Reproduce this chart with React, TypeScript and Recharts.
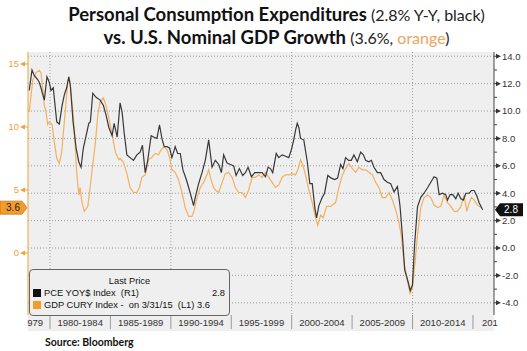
import React from 'react';
import { LineChart, Line, XAxis, YAxis, CartesianGrid, ReferenceLine } from 'recharts';

// ---------- data ----------
const pceYears = [
  1978.28, 1978.51, 1978.70, 1978.98, 1979.11, 1979.25, 1979.53, 1979.75, 1979.94, 1980.08,
  1980.27, 1980.56, 1980.77, 1981.00, 1981.19, 1981.38, 1981.55, 1981.68, 1981.91, 1982.16,
  1982.38, 1982.57, 1982.76, 1982.99, 1983.21, 1983.34, 1983.54, 1983.81, 1984.15, 1984.42,
  1984.64, 1984.87, 1985.14, 1985.31, 1985.56, 1985.80, 1985.97, 1986.14, 1986.36, 1986.63,
  1986.91, 1987.19, 1987.46, 1987.65, 1987.88, 1988.07, 1988.37, 1988.57, 1988.85, 1989.06,
  1989.26, 1989.45, 1989.68, 1989.89, 1990.09, 1990.36, 1990.56, 1990.78, 1991.00, 1991.28,
  1991.61, 1991.88, 1992.02, 1992.30, 1992.58, 1992.85, 1993.13, 1993.41, 1993.68, 1993.96,
  1994.18, 1994.37, 1994.65, 1994.93, 1995.20, 1995.40, 1995.67, 1995.95, 1996.17, 1996.39,
  1996.67, 1996.94, 1997.25, 1997.55, 1997.83, 1998.05, 1998.24, 1998.43, 1998.72, 1998.93,
  1999.21, 1999.49, 1999.76, 1999.98, 2000.17, 2000.32, 2000.46, 2000.59, 2000.73, 2001.00,
  2001.29, 2001.50, 2001.70, 2001.92, 2002.06, 2002.25, 2002.53, 2002.72, 2002.99, 2003.28,
  2003.55, 2003.80, 2004.05, 2004.24, 2004.46, 2004.71, 2004.93, 2005.15, 2005.43, 2005.71,
  2005.93, 2006.12, 2006.39, 2006.59, 2006.81, 2007.09, 2007.36, 2007.64, 2007.92, 2008.19,
  2008.47, 2008.75, 2008.96, 2009.16, 2009.35, 2009.58, 2009.81, 2009.99, 2010.18, 2010.41,
  2010.68, 2010.95, 2011.24, 2011.51, 2011.78, 2012.01, 2012.20, 2012.48, 2012.75, 2012.89,
  2013.11, 2013.33, 2013.58, 2013.77, 2014.00, 2014.20, 2014.41, 2014.69, 2014.88, 2015.10,
  2015.32, 2015.51, 2015.80,
];
const pceValues = [
  11.5, 13.0, 12.6, 12.3, 12.1, 11.7, 10.8, 12.5, 12.1, 11.5,
  11.7, 9.2, 9.05, 10.4, 11.2, 11.7, 12.5, 11.9, 9.2, 7.3,
  6.3, 5.9, 7.3, 8.2, 9.1, 9.2, 11.3, 11.0, 10.8, 10.4,
  9.7, 8.8, 8.2, 9.1, 8.1, 10.6, 9.9, 8.4, 6.8, 6.6,
  6.4, 6.8, 7.0, 7.5, 5.5, 6.3, 8.2, 8.1, 8.0, 9.0,
  8.0, 7.4, 7.4, 7.3, 6.6, 7.4, 6.9, 6.9, 5.7, 5.0,
  4.0, 3.1, 3.7, 4.7, 5.5, 6.4, 7.9, 5.9, 6.4, 6.1,
  5.5, 6.8, 6.2, 6.1, 6.0, 5.3, 5.8, 5.3, 5.5, 5.9,
  5.2, 5.5, 5.5, 5.5, 5.2, 5.9, 5.8, 5.5, 6.9, 6.6,
  6.8, 6.7, 6.6, 7.2, 7.9, 8.6, 9.1, 8.8, 8.0, 7.9,
  6.3, 4.7, 4.7, 2.9, 2.2, 3.1, 3.7, 4.0, 5.3, 5.1,
  5.0, 5.1, 6.1, 5.8, 6.6, 6.4, 6.4, 6.8, 6.3, 7.0,
  6.8, 6.4, 6.3, 6.4, 5.9, 5.5, 5.5, 5.0, 4.8, 4.7,
  4.1, 4.5, 3.1, 0.9, -1.6, -2.3, -3.1, -2.7, 0.4, 3.0,
  3.7, 4.0, 4.4, 4.8, 5.2, 5.1, 3.9, 4.0, 3.9, 3.5,
  3.9, 3.9, 3.6, 4.0, 3.6, 3.5, 4.0, 4.0, 4.2, 4.2,
  3.8, 3.3, 2.8,
];

const gdpYears = [
  1978.28, 1978.57, 1978.84, 1979.11, 1979.25, 1979.39, 1979.53, 1979.67, 1979.81, 1979.94,
  1980.17, 1980.36, 1980.56, 1980.77, 1980.97, 1981.14, 1981.33, 1981.47, 1981.60, 1981.74,
  1982.01, 1982.21, 1982.38, 1982.49, 1982.65, 1982.84, 1983.13, 1983.32, 1983.54, 1983.76,
  1983.96, 1984.15, 1984.42, 1984.64, 1984.87, 1985.14, 1985.41, 1985.70, 1985.80, 1986.08,
  1986.36, 1986.63, 1986.91, 1987.19, 1987.40, 1987.60, 1987.88, 1988.15, 1988.43, 1988.71,
  1988.98, 1989.26, 1989.45, 1989.68, 1989.89, 1990.09, 1990.36, 1990.64, 1990.92, 1991.19,
  1991.47, 1991.75, 1991.94, 1992.16, 1992.44, 1992.71, 1992.99, 1993.13, 1993.33, 1993.54,
  1993.68, 1993.96, 1994.24, 1994.51, 1994.78, 1995.07, 1995.34, 1995.61, 1995.90, 1996.17,
  1996.44, 1996.73, 1997.00, 1997.27, 1997.55, 1997.83, 1998.10, 1998.38, 1998.66, 1998.93,
  1999.21, 1999.49, 1999.76, 2000.04, 2000.32, 2000.54, 2000.73, 2000.92, 2001.14, 2001.42,
  2001.70, 2001.92, 2002.16, 2002.39, 2002.61, 2002.89, 2003.22, 2003.63, 2003.91, 2004.19,
  2004.46, 2004.73, 2005.02, 2005.29, 2005.56, 2005.85, 2006.12, 2006.39, 2006.68, 2006.95,
  2007.22, 2007.50, 2007.78, 2008.05, 2008.33, 2008.61, 2008.88, 2009.08, 2009.30, 2009.58,
  2009.79, 2009.99, 2010.18, 2010.41, 2010.68, 2010.95, 2011.24, 2011.51, 2011.78, 2012.07,
  2012.34, 2012.61, 2012.89, 2013.17, 2013.44, 2013.72, 2014.00, 2014.27, 2014.49, 2014.69,
  2014.88, 2015.10, 2015.38, 2015.66,
];
const gdpValues = [
  11.2, 13.7, 14.3, 14.5, 14.3, 13.1, 11.7, 11.2, 10.2, 10.4,
  10.2, 8.8, 7.5, 7.1, 8.0, 9.9, 12.0, 13.6, 13.9, 12.8,
  9.9, 6.4, 4.6, 5.2, 4.0, 3.3, 3.7, 5.2, 7.0, 8.8,
  11.0, 12.0, 12.3, 11.7, 10.7, 9.4, 8.0, 7.4, 7.5, 7.2,
  6.3, 5.2, 4.8, 4.8, 5.2, 6.0, 6.2, 7.4, 7.6, 7.9,
  7.8, 8.3, 8.4, 8.2, 7.6, 6.6, 6.4, 5.8, 4.8, 3.6,
  2.9, 2.9, 3.4, 4.4, 5.2, 5.6, 6.2, 6.6, 5.8, 5.2,
  5.0, 4.8, 5.6, 6.3, 6.4, 6.0, 5.2, 4.8, 4.8, 4.4,
  5.0, 6.0, 6.0, 6.2, 6.0, 6.4, 6.0, 5.6, 5.2, 5.4,
  6.0, 6.2, 6.2, 6.3, 6.2, 6.7, 7.4, 7.0, 6.2, 5.0,
  4.0, 3.0, 2.2, 3.0, 2.8, 3.7, 3.7, 4.0, 5.2, 6.2,
  6.7, 7.1, 6.7, 6.4, 6.8, 6.6, 6.6, 6.4, 6.2, 5.6,
  5.2, 4.4, 4.4, 4.8, 4.2, 3.4, 2.4, 1.3, -0.8, -2.2,
  -3.2, -2.8, -1.0, 1.4, 3.6, 4.4, 4.6, 4.4, 3.8, 3.6,
  3.7, 4.6, 4.0, 3.7, 3.3, 3.3, 3.7, 4.6, 3.3, 4.0,
  4.4, 4.2, 3.8, 3.6,
];

// x-axis bands (the first and last bands are only partly inside the plot, so only part of their label shows)
const bandLabels = ['979', '1980-1984', '1985-1989', '1990-1994', '1995-1999', '2000-2004', '2005-2009', '2010-2014', '201'];
const bandCenters = [1977.5, 1982.5, 1987.5, 1992.5, 1997.5, 2002.5, 2007.5, 2012.5, 2017.5];
const BAND_YEARS = 5;
const gridYears = [1980, 1990, 2000, 2010];
const rightTicks = [-4, -3, -2, -1, 0, 1, 2, 3, 4, 5, 6, 7, 8, 9, 10, 11, 12, 13, 14];
const rightGrid = [-4, -2, 0, 2, 4, 6, 8, 10, 12, 14];
const leftTicks = [0, 5, 10, 15];
const lastPce = 2.8;
const lastGdp = 3.6;

// ---------- layout / style ----------
const W = 527;
const H = 351;
const LEFT_W = 28;
const RIGHT_W = 33;
const TOP = 52;
const PLOT_BOTTOM = 315;
const LABEL_H = 16;
const X_DOMAIN: [number, number] = [1978.18, 2016.74];
const LEFT_DOMAIN: [number, number] = [-4.92, 15.95];
const RIGHT_DOMAIN: [number, number] = [-4.89, 14.31];
const PLOT_W = W - LEFT_W - RIGHT_W;
const HALF_BAND_PX = (BAND_YEARS / 2) * (PLOT_W / (X_DOMAIN[1] - X_DOMAIN[0]));

const BLACK = '#383838';
const ORANGE_LINE = '#f2b060';
const ORANGE_AXIS = '#eda23c';
const AXIS_FONT = '"Liberation Sans", Arial, sans-serif';

const pceData = pceYears.map((t, i) => ({ t, pce: pceValues[i] }));
const gdpData = gdpYears.map((t, i) => ({ t, gdp: gdpValues[i] }));

const LeftTick = (props: any) => {
  const { x, y, payload } = props;
  return (
    <g>
      <line x1={x} x2={x - 3} y1={y} y2={y} stroke={ORANGE_AXIS} />
      <polygon points={`${x - 3},${y - 2.5} ${x - 3},${y + 2.5} ${x - 8},${y}`} fill={ORANGE_AXIS} />
      <text x={x - 9} y={y} dy="0.35em" textAnchor="end" fontSize={9.5} fontFamily={AXIS_FONT} fill={ORANGE_AXIS}>
        {payload.value}
      </text>
    </g>
  );
};

const RightTick = (props: any) => {
  const { x, y, payload } = props;
  const v = payload.value as number;
  if (Math.abs(v % 2) === 1) {
    return <line x1={x} x2={x + 3} y1={y} y2={y} stroke="#444" />;
  }
  return (
    <g>
      <line x1={x} x2={x + 2} y1={y} y2={y} stroke="#444" />
      <polygon points={`${x + 2},${y - 2.5} ${x + 2},${y + 2.5} ${x + 7},${y}`} fill="#333" />
      <text x={x + 8} y={y} dy="0.35em" textAnchor="start" fontSize={9.5} fontFamily={AXIS_FONT} fill="#333">
        {v.toFixed(1)}
      </text>
    </g>
  );
};

const BandTick = (props: any) => {
  const { x, y, payload } = props;
  const i = bandCenters.indexOf(payload.value);
  const label = bandLabels[i];
  const last = bandCenters.length - 1;
  const left = x - HALF_BAND_PX;
  const right = x + HALF_BAND_PX;
  let tx = x;
  let anchor: 'start' | 'middle' | 'end' = 'middle';
  if (i === 0) {
    tx = right - 7;
    anchor = 'end';
  } else if (i === last) {
    tx = left + 9;
    anchor = 'start';
  }
  return (
    <g>
      {i > 0 && <line x1={left} x2={left} y1={y} y2={y + LABEL_H - 2} stroke="#9a9a9a" />}
      <text x={tx} y={y + 11} textAnchor={anchor} fontSize={9.5} fontFamily={AXIS_FONT} fill="#333">
        {label}
      </text>
    </g>
  );
};

const LeftTag = (props: any) => {
  const vb = props.viewBox;
  if (!vb) return null;
  const x = vb.x;
  const y = vb.y;
  return (
    <g>
      <polygon
        points={`${x - 28},${y - 6.5} ${x - 6},${y - 6.5} ${x - 1},${y} ${x - 6},${y + 6.5} ${x - 28},${y + 6.5}`}
        fill="#f39c2a"
        stroke="#c9781a"
        strokeWidth={0.8}
      />
      <text x={x - 15} y={y} dy="0.36em" textAnchor="middle" fontSize={10} fontFamily={AXIS_FONT} fill="#222">
        {lastGdp.toFixed(1)}
      </text>
    </g>
  );
};

const RightTag = (props: any) => {
  const vb = props.viewBox;
  if (!vb) return null;
  const x = vb.x + vb.width;
  const y = vb.y;
  return (
    <g>
      <polygon
        points={`${x + 1},${y} ${x + 6},${y - 6.5} ${x + 29},${y - 6.5} ${x + 29},${y + 6.5} ${x + 6},${y + 6.5}`}
        fill="#111"
      />
      <text x={x + 17} y={y} dy="0.36em" textAnchor="middle" fontSize={10} fontFamily={AXIS_FONT} fill="#fff">
        {lastPce.toFixed(1)}
      </text>
    </g>
  );
};

export default function App() {
  return (
    <div style={{ position: 'absolute', left: 0, top: 0, width: W, height: H, background: '#fff', overflow: 'hidden' }}>
      {/* plot + label band background */}
      <div
        style={{
          position: 'absolute',
          left: LEFT_W,
          top: TOP,
          width: PLOT_W,
          height: PLOT_BOTTOM - TOP + LABEL_H,
          background: '#efefef',
        }}
      />
      {/* title */}
      <div
        style={{
          position: 'absolute',
          left: 13,
          top: 3,
          width: W,
          textAlign: 'center',
          fontFamily: 'Lato, "Open Sans", sans-serif',
          lineHeight: '22px',
          color: '#111',
          whiteSpace: 'nowrap',
        }}
      >
        <div>
          <span style={{ fontWeight: 700, fontSize: 18.5 }}>Personal Consumption Expenditures</span>{' '}
          <span style={{ fontSize: 16, color: '#222' }}>(2.8% Y-Y, black)</span>
        </div>
        <div>
          <span style={{ fontWeight: 700, fontSize: 18.5 }}>vs. U.S. Nominal GDP Growth</span>{' '}
          <span style={{ fontSize: 16, color: '#222' }}>
            (3.6%, <span style={{ color: '#f0a45c' }}>orange</span>)
          </span>
        </div>
      </div>

      <div style={{ position: 'absolute', left: 0, top: 0 }}>
        <LineChart width={W} height={H} margin={{ top: TOP, right: 0, bottom: H - PLOT_BOTTOM - LABEL_H, left: 0 }}>
          <CartesianGrid
            yAxisId="right"
            horizontalValues={rightGrid}
            verticalValues={gridYears}
            stroke="#9a9a9a"
            strokeDasharray="1 2"
            fill="none"
          />
          <XAxis
            type="number"
            dataKey="t"
            domain={X_DOMAIN}
            allowDataOverflow
            ticks={bandCenters}
            interval={0}
            height={LABEL_H}
            axisLine={false}
            tickLine={false}
            tickSize={0}
            tickMargin={0}
            tick={<BandTick />}
          />
          <YAxis
            yAxisId="left"
            orientation="left"
            width={LEFT_W}
            domain={LEFT_DOMAIN}
            allowDataOverflow
            ticks={leftTicks}
            interval={0}
            axisLine={{ stroke: ORANGE_AXIS }}
            tickLine={false}
            tickSize={0}
            tickMargin={0}
            tick={<LeftTick />}
          />
          <YAxis
            yAxisId="right"
            orientation="right"
            width={RIGHT_W}
            domain={RIGHT_DOMAIN}
            allowDataOverflow
            ticks={rightTicks}
            interval={0}
            axisLine={{ stroke: '#444' }}
            tickLine={false}
            tickSize={0}
            tickMargin={0}
            tick={<RightTick />}
          />
          <Line
            data={gdpData}
            yAxisId="left"
            dataKey="gdp"
            type="linear"
            stroke={ORANGE_LINE}
            strokeWidth={1.2}
            dot={false}
            isAnimationActive={false}
          />
          <Line
            data={pceData}
            yAxisId="right"
            dataKey="pce"
            type="linear"
            stroke={BLACK}
            strokeWidth={1.2}
            dot={false}
            isAnimationActive={false}
          />
          <ReferenceLine yAxisId="left" y={lastGdp} stroke="none" label={{ content: LeftTag }} />
          <ReferenceLine yAxisId="right" y={lastPce} stroke="none" label={{ content: RightTag }} />
        </LineChart>
      </div>

      {/* legend box */}
      <div
        style={{
          position: 'absolute',
          left: 29,
          top: 269,
          width: 199,
          height: 45,
          border: '1px solid #666',
          borderRadius: 4,
          background: '#efefef',
          fontFamily: AXIS_FONT,
          fontSize: 9.3,
          color: '#111',
          whiteSpace: 'pre',
        }}
      >
        <div style={{ position: 'absolute', left: 0, width: 199, top: 6, textAlign: 'center', lineHeight: '11px' }}>Last Price</div>
        <div style={{ position: 'absolute', left: 3, top: 19, width: 8, height: 8, background: '#111' }} />
        <div style={{ position: 'absolute', left: 14, top: 18, lineHeight: '11px' }}>PCE YOY$ Index  (R1)</div>
        <div style={{ position: 'absolute', right: 4, top: 18, lineHeight: '11px' }}>{lastPce.toFixed(1)}</div>
        <div style={{ position: 'absolute', left: 3, top: 31, width: 8, height: 8, background: '#f39c2a' }} />
        <div style={{ position: 'absolute', left: 14, top: 30, lineHeight: '11px' }}>GDP CURY Index -  on 3/31/15  (L1) {lastGdp.toFixed(1)}</div>
      </div>

      {/* source */}
      <div
        style={{
          position: 'absolute',
          left: 45,
          top: 336,
          fontFamily: 'Lato, "Open Sans", sans-serif',
          fontWeight: 700,
          fontSize: 10.5,
          lineHeight: '12px',
          color: '#111',
        }}
      >
        Source: Bloomberg
      </div>
    </div>
  );
}
